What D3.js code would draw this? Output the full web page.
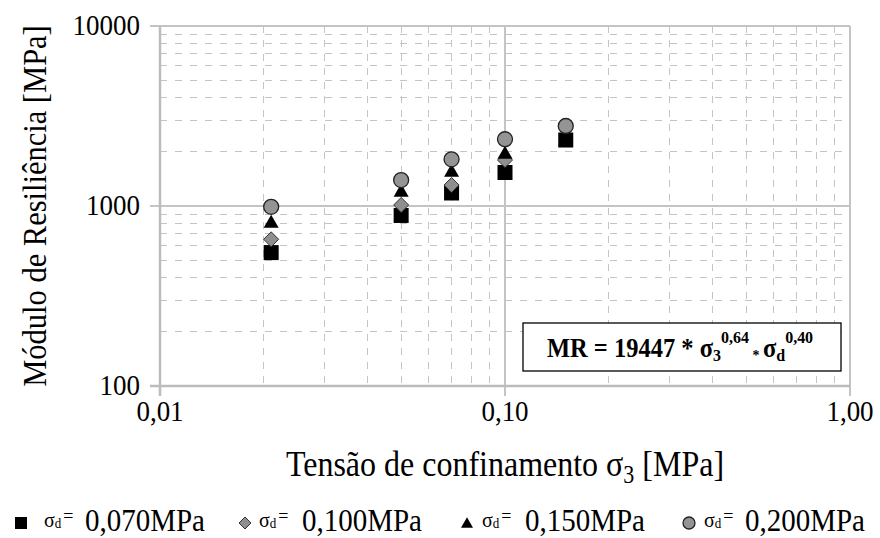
<!DOCTYPE html>
<html>
<head>
<meta charset="utf-8">
<script src="https://cdn.jsdelivr.net/npm/d3@7"></script>
<style>
  body { margin: 0; background: #fff; }
  text { font-family: "Liberation Serif", "Times New Roman", serif; fill: #000; }
</style>
</head>
<body>
<svg id="chart" width="880" height="538"></svg>
<script>
// Confining stress (MPa) for each test stage
const sigma3 = [0.021, 0.050, 0.070, 0.100, 0.150];
// Resilient modulus (MPa) for each deviator stress level
const mrSd070 = [551, 886, 1181, 1535, 2326];
const mrSd100 = [653, 1013, 1308, 1800, null];
const mrSd150 = [815, 1215, 1565, 1970, 2330];
const mrSd200 = [990, 1394, 1817, 2348, 2783];
const seriesLabels = ["0,070MPa", "0,100MPa", "0,150MPa", "0,200MPa"];
const xTickValues = [0.01, 0.1, 1];
const xTickLabels = ["0,01", "0,10", "1,00"];
const yTickValues = [100, 1000, 10000];
const yTickLabels = ["100", "1000", "10000"];

const svg = d3.select("#chart");
const plot = { left: 160, right: 850, top: 26, bottom: 386 };
const stretch = 1.1; // vertical text stretch

const x = d3.scaleLog().domain([0.01, 1]).range([plot.left, plot.right]);
const y = d3.scaleLog().domain([100, 10000]).range([plot.bottom, plot.top]);

const gridColor = "#c4c4c4";

// minor grid (dashed)
const minorX = [], minorY = [];
[0.01, 0.1].forEach(d => { for (let k = 2; k <= 9; k++) minorX.push(d * k); });
[100, 1000].forEach(d => { for (let k = 2; k <= 9; k++) minorY.push(d * k); });

const grid = svg.append("g");
grid.selectAll("line.mx").data(minorX).join("line")
  .attr("x1", d => x(d)).attr("x2", d => x(d))
  .attr("y1", plot.top).attr("y2", plot.bottom)
  .attr("stroke", gridColor).attr("stroke-width", 1)
  .attr("stroke-dasharray", "7,7").attr("shape-rendering", "crispEdges");
grid.selectAll("line.my").data(minorY).join("line")
  .attr("x1", plot.left).attr("x2", plot.right)
  .attr("y1", d => y(d)).attr("y2", d => y(d))
  .attr("stroke", gridColor).attr("stroke-width", 1)
  .attr("stroke-dasharray", "7,8").attr("shape-rendering", "crispEdges");

// major grid (solid) with outward ticks
grid.selectAll("line.Mx").data(xTickValues).join("line")
  .attr("x1", d => x(d)).attr("x2", d => x(d))
  .attr("y1", plot.top).attr("y2", plot.bottom + 10)
  .attr("stroke", gridColor).attr("stroke-width", 1.5)
  .attr("shape-rendering", "crispEdges");
grid.selectAll("line.My").data(yTickValues).join("line")
  .attr("x1", plot.left - 10).attr("x2", plot.right)
  .attr("y1", d => y(d)).attr("y2", d => y(d))
  .attr("stroke", gridColor).attr("stroke-width", 1.5)
  .attr("shape-rendering", "crispEdges");

// axis lines
svg.append("line").attr("x1", plot.left).attr("x2", plot.left)
  .attr("y1", plot.top).attr("y2", plot.bottom + 10)
  .attr("stroke", "#bcbcbc").attr("stroke-width", 2.5);
svg.append("line").attr("x1", plot.left - 10).attr("x2", plot.right)
  .attr("y1", plot.bottom).attr("y2", plot.bottom)
  .attr("stroke", "#bcbcbc").attr("stroke-width", 2.5);

function stretchedText(g, px, py, str, size, anchor) {
  return g.append("text")
    .attr("transform", `translate(${px},${py}) scale(1,${stretch})`)
    .attr("text-anchor", anchor || "start")
    .attr("font-size", size)
    .text(str);
}

// tick labels
const tickSize = 27;
xTickValues.forEach((v, i) => stretchedText(svg, x(v), 421, xTickLabels[i], tickSize, "middle"));
yTickValues.forEach((v, i) => stretchedText(svg, 140, y(v) + 9, yTickLabels[i], tickSize, "end"));

// axis titles
const xt = svg.append("text")
  .attr("transform", `translate(${(plot.left + plot.right) / 2},476) scale(1,${stretch})`)
  .attr("text-anchor", "middle").attr("font-size", 32);
xt.append("tspan").text("Tensão de confinamento σ");
xt.append("tspan").attr("font-size", 22).attr("dy", 6).text("3");
xt.append("tspan").attr("dy", -6).text(" [MPa]");

svg.append("text")
  .attr("transform", `translate(46,${(plot.top + plot.bottom) / 2}) scale(${stretch},1) rotate(-90)`)
  .attr("text-anchor", "middle").attr("font-size", 30.5)
  .text("Módulo de Resiliência [MPa]");

// markers
const series = [
  { values: mrSd070, type: "square" },
  { values: mrSd100, type: "diamond" },
  { values: mrSd150, type: "triangle" },
  { values: mrSd200, type: "circle" }
];

function drawMarker(g, type, cx, cy, s) {
  // s: nominal marker width
  if (type === "square") {
    g.append("rect").attr("x", cx - s / 2).attr("y", cy - s / 2)
      .attr("width", s).attr("height", s).attr("fill", "#000");
  } else if (type === "diamond") {
    const h = s / 2;
    g.append("path").attr("d", `M${cx},${cy - h}L${cx + h},${cy}L${cx},${cy + h}L${cx - h},${cy}Z`)
      .attr("fill", "#8f8f8f").attr("stroke", "#333").attr("stroke-width", 1);
  } else if (type === "triangle") {
    const h = s * 0.87;
    g.append("path").attr("d", `M${cx},${cy - h * 0.55}L${cx + s / 2},${cy + h * 0.45}L${cx - s / 2},${cy + h * 0.45}Z`)
      .attr("fill", "#000");
  } else {
    g.append("circle").attr("cx", cx).attr("cy", cy).attr("r", s / 2)
      .attr("fill", "#949494").attr("stroke", "#222").attr("stroke-width", 1.3);
  }
}

const marks = svg.append("g");
series.forEach(sr => {
  sr.values.forEach((v, i) => {
    if (v == null) return;
    drawMarker(marks, sr.type, x(sigma3[i]), y(v), 15);
  });
});

// equation box
const eq = svg.append("g");
eq.append("rect").attr("x", 523).attr("y", 323).attr("width", 318).attr("height", 48)
  .attr("fill", "#fff").attr("stroke", "#000").attr("stroke-width", 1.3);
const et = eq.append("text")
  .attr("transform", `translate(680,357) scale(1,${stretch})`)
  .attr("text-anchor", "middle").attr("font-weight", "bold").attr("font-size", 24.5);
et.append("tspan").text("MR = 19447 * σ");
et.append("tspan").attr("font-size", 16).attr("dy", 4).text("3");
et.append("tspan").attr("font-size", 16).attr("dy", -17).text("0,64");
et.append("tspan").attr("font-size", 14).attr("dy", 16).text(" * ");
et.append("tspan").attr("dy", -3).text("σ");
et.append("tspan").attr("font-size", 16).attr("dy", 4).text("d");
et.append("tspan").attr("font-size", 16).attr("dy", -17).text("0,40");

// legend
const legendX = [21, 245, 467, 689];
const legendSigmaX = [44, 259, 482, 704];
const legendValueX = [85, 302, 525, 745];
const lg = svg.append("g");
series.forEach((sr, i) => {
  drawMarker(lg, sr.type, legendX[i], 523, 12);
  const t = lg.append("text")
    .attr("transform", `translate(${legendSigmaX[i]},527) scale(1,${stretch})`)
    .attr("font-size", 20);
  t.append("tspan").text("σ");
  t.append("tspan").attr("font-size", 13).attr("dy", 1).text("d");
  t.append("tspan").attr("font-size", 18).attr("dy", -6).attr("dx", 2).text("=");
  stretchedText(lg, legendValueX[i], 531, seriesLabels[i], 29, "start");
});
</script>
</body>
</html>
